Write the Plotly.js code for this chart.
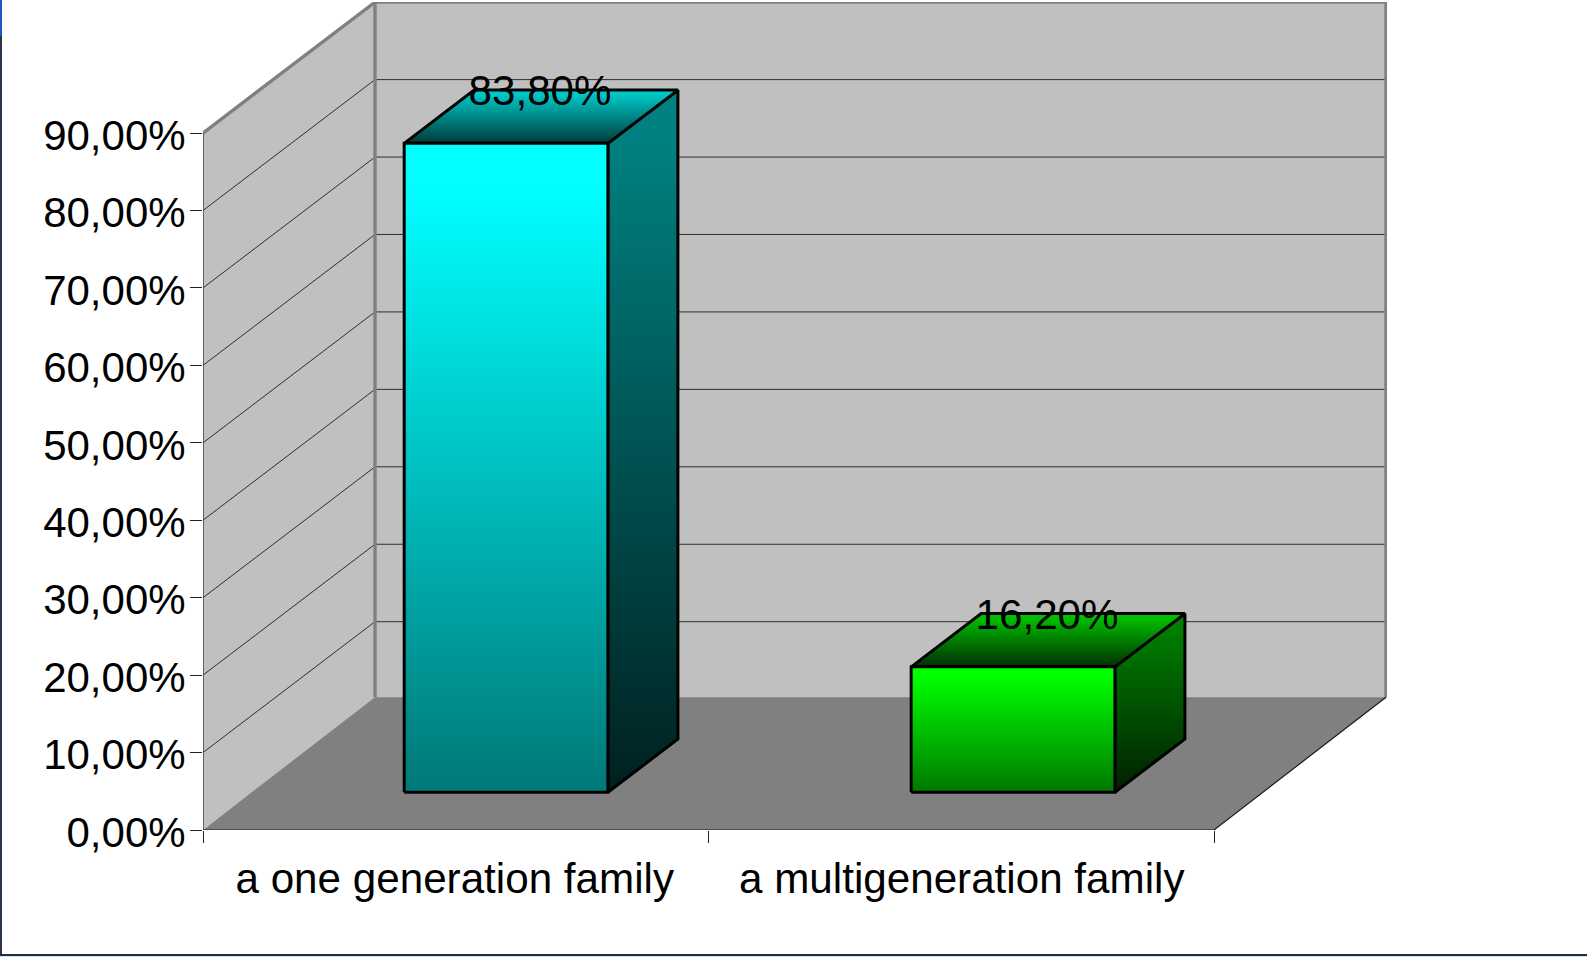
<!DOCTYPE html>
<html>
<head>
<meta charset="utf-8">
<script src="https://cdn.plot.ly/plotly-3.0.1.min.js"></script>
<style>html,body{margin:0;padding:0;background:#fff;overflow:hidden}#chart{width:1587px;height:957px}</style>
</head>
<body>
<div id="chart"></div>
<script>
// ---- data ----
const categories = ['a one generation family', 'a multigeneration family'];
const values = [83.8, 16.2];
const yTicks = [0, 10, 20, 30, 40, 50, 60, 70, 80, 90];
const catEdges = [0, 1, 2];
// ---- bar colours: front, top, side as [top colour, bottom colour] ----
const frontColors = [['#00ffff', '#007878'], ['#00ff00', '#007800']];
const topColors = [['#00c8c8', '#003a3a'], ['#00c000', '#003000']];
const sideColors = [['#008080', '#002020'], ['#008000', '#002000']];

// ---- oblique projection, in axis units ----
const DEPTH_X = 172 / 505.5, DEPTH_Y = 16.9, FLOOR_LIFT = 0.25, BAR_STEP = 1.003;
const Z_FRONT = 0.288, Z_BACK = 0.695, BAR_L = 0.3, BAR_R = 0.703;
const P = (x, y, z) => [x + z * DEPTH_X, y + z * DEPTH_Y];
const Y_MAX = yTicks[yTicks.length - 1], X_MAX = catEdges[catEdges.length - 1];
const FONT = {family: 'Liberation Sans', size: 42.2, color: '#000'};
const YFONT = {family: 'Liberation Sans', size: 42, color: '#000'};

function poly(pts, fill, line, grad) {
  const t = {
    type: 'scatter', mode: line ? 'lines' : 'none', cliponaxis: false, hoverinfo: 'skip', showlegend: false,
    x: pts.map(p => p[0]).concat(pts[0][0]), y: pts.map(p => p[1]).concat(pts[0][1]),
    fill: 'toself', line: line || {width: 0}
  };
  if (grad) {
    const ys = pts.map(p => p[1]);
    t.fillgradient = {type: 'vertical', start: Math.min(...ys), stop: Math.max(...ys),
      colorscale: [[0, grad[1]], [0.93, grad[0]], [1, grad[0]]]};
  } else t.fillcolor = fill;
  return t;
}
function path(pts, color, width) {
  return {type: 'scatter', mode: 'lines', cliponaxis: false, hoverinfo: 'skip', showlegend: false,
    x: pts.map(p => p ? p[0] : null), y: pts.map(p => p ? p[1] : null),
    line: {color: color, width: width}};
}

const traces = [];
// walls and floor
traces.push(poly([P(0,0,1), P(0,Y_MAX,1), P(X_MAX,Y_MAX,1), P(X_MAX,0,1)], '#c0c0c0'));
traces.push(poly([P(0,0,0), P(0,Y_MAX,0), P(0,Y_MAX,1), P(0,0,1)], '#c0c0c0'));
traces.push(poly([P(0,0,0), P(0,FLOOR_LIFT,1), P(X_MAX,FLOOR_LIFT,1), P(X_MAX,0,0)], '#808080'));
// gridlines
const grid = [];
yTicks.filter(v => v > 0 && v < Y_MAX).forEach(v => { grid.push(P(0,v,0), P(0,v,1), P(X_MAX,v,1), null); });
traces.push(path(grid, '#2e2e2e', 1));
// wall edges
traces.push(path([P(0,Y_MAX,0), P(0,Y_MAX,1), P(X_MAX,Y_MAX,1), P(X_MAX,FLOOR_LIFT,1), null, P(0,Y_MAX,1), P(0,FLOOR_LIFT,1)], '#808080', 3.4));
// front axis lines
traces.push(path([P(0,0,0), P(0,Y_MAX,0)], '#444444', 1.5));
traces.push(path([P(0,0,0), P(X_MAX,0,0), P(X_MAX,FLOOR_LIFT,1)], '#1a1a1a', 1.2));
// bars
const outline = {color: '#000000', width: 3};
values.forEach((v, i) => {
  const l = i * BAR_STEP + BAR_L, r = i * BAR_STEP + BAR_R;
  traces.push(poly([P(r,0,Z_FRONT), P(r,0,Z_BACK), P(r,v,Z_BACK), P(r,v,Z_FRONT)], null, outline, sideColors[i]));
  traces.push(poly([P(l,v,Z_FRONT), P(r,v,Z_FRONT), P(r,v,Z_BACK), P(l,v,Z_BACK)], null, outline, topColors[i]));
  traces.push(poly([P(l,0,Z_FRONT), P(r,0,Z_FRONT), P(r,v,Z_FRONT), P(l,v,Z_FRONT)], null, outline, frontColors[i]));
});
// value labels
traces.push({type: 'scatter', mode: 'text', cliponaxis: false, hoverinfo: 'skip', showlegend: false,
  x: values.map((v, i) => i * BAR_STEP + (BAR_L + BAR_R) / 2 + (Z_FRONT + Z_BACK) / 2 * DEPTH_X - 0.002),
  y: values.map(v => v + Z_BACK * DEPTH_Y - 0.6),
  text: values.map(v => v.toFixed(2).replace('.', ',') + '%'),
  textposition: 'middle center',
  textfont: FONT});

const frame = [
  [0, 0, 2, 36, '#1a5cc4'], [0, 36, 2, 956, '#2b3548'],
  [0, 954, 1587, 956, '#1d2c44'], [0, 956, 1587, 957, '#d4e4f0']
].map(r => ({type: 'rect', xref: 'paper', yref: 'paper', layer: 'above', line: {width: 0}, fillcolor: r[4],
  x0: (r[0] - 203) / 1184, x1: (r[2] - 203) / 1184, y0: (830 - r[1]) / 828, y1: (830 - r[3]) / 828}));

const layout = {
  width: 1587, height: 957, autosize: false,
  margin: {l: 203, r: 200, t: 2, b: 127, pad: 0},
  paper_bgcolor: '#ffffff', plot_bgcolor: 'rgba(0,0,0,0)',
  showlegend: false, hovermode: false,
  font: FONT,
  shapes: frame,
  xaxis: {
    range: [0, 1184 / 505.5], showgrid: false, zeroline: false, showline: false, fixedrange: true,
    tickmode: 'array', tickvals: categories.map((c, i) => i * BAR_STEP + 0.5 - 0.002), ticktext: categories, ticks: '',
    ticklabelstandoff: 20,
    minor: {tickmode: 'array', tickvals: catEdges, ticks: 'outside', ticklen: 12, tickwidth: 1, tickcolor: '#222', showgrid: false},
    tickfont: FONT
  },
  yaxis: {
    range: [0, 828 / 7.744], showgrid: false, zeroline: false, showline: false, fixedrange: true,
    tickmode: 'array', tickvals: yTicks, ticktext: yTicks.map(v => v.toFixed(2).replace('.', ',') + '%'),
    ticks: 'outside', ticklen: 12, tickwidth: 1, tickcolor: '#222',
    ticklabelstandoff: -4, ticklabelshift: 2,
    tickfont: YFONT
  }
};
Plotly.newPlot('chart', traces, layout, {staticPlot: true, displayModeBar: false});
</script>
</body>
</html>
